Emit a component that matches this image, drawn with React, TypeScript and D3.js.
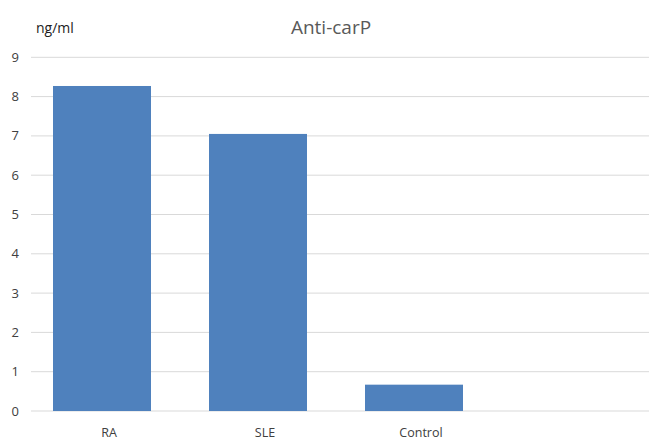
import React from "react";
import * as d3 from "d3";

const categories = ["RA", "SLE", "Control", ""];
const values = [8.27, 7.05, 0.67, null];
const yTicks = [0, 1, 2, 3, 4, 5, 6, 7, 8, 9];
const title = "Anti-carP";
const unitLabel = "ng/ml";

export default function App() {
  const W = 649;
  const H = 442;
  const left = 31;
  const right = 655;
  const top = 57.3;
  const bottom = 411;

  const x = d3.scaleBand<string>().domain(categories).range([left, right]).paddingInner(0).paddingOuter(0);
  const y = d3.scaleLinear().domain([0, 9]).range([bottom, top]);
  const barW = 98;
  const shift = -7;
  const font = "'Open Sans', 'Liberation Sans', sans-serif";

  return (
    <svg width={W} height={H} style={{ position: "absolute", left: 0, top: 0, background: "#fff" }} fontFamily={font}>
      {yTicks.map((t) => (
        <g key={t}>
          <line x1={left} x2={right} y1={y(t)} y2={y(t)} stroke="#d9d9d9" strokeWidth={1} />
          <text x={19} y={y(t)} dy="0.35em" textAnchor="end" fontSize={13} fill="#404040">{t}</text>
        </g>
      ))}
      {categories.map((c, i) => {
        const v = values[i];
        const cx = (x(c) as number) + x.bandwidth() / 2;
        return (
          <g key={i}>
            {v != null && (
              <rect x={cx + shift - barW / 2} width={barW} y={y(v)} height={y(0) - y(v)} fill="#4f81bd" />
            )}
            {c && (
              <text x={cx} y={433} dy="0.35em" textAnchor="middle" fontSize={12.5} fill="#404040">{c}</text>
            )}
          </g>
        );
      })}
      <text x={331} y={27} dy="0.35em" textAnchor="middle" fontSize={19} fill="#595959">{title}</text>
      <text x={36} y={28} dy="0.35em" textAnchor="start" fontSize={14} fill="#222">{unitLabel}</text>
    </svg>
  );
}
